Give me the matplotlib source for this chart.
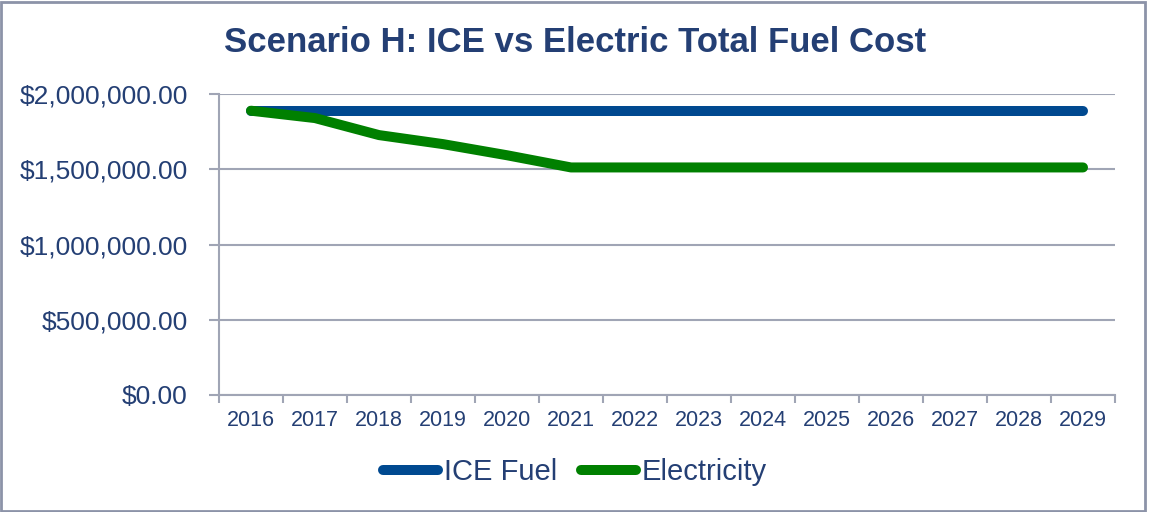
import matplotlib.pyplot as plt
from matplotlib.patches import Rectangle
from matplotlib.ticker import FuncFormatter

years = [str(y) for y in range(2016, 2030)]
ice_fuel = [1889000] * 14
electricity = [1889000, 1840000, 1727000, 1667000, 1593000, 1512000,
               1512000, 1512000, 1512000, 1512000, 1512000, 1512000,
               1512000, 1512000]

navy = '#243f74'
grid_c = '#a0a5b5'

plt.rcParams['font.family'] = ['Liberation Sans', 'DejaVu Sans']

fig = plt.figure(figsize=(11.52, 5.12), dpi=100)
ax = fig.add_axes([219 / 1152, 1 - 395 / 512, 896 / 1152, 301 / 512])

x = list(range(len(years)))
ax.plot(x, ice_fuel, color='#004990', lw=7.2, solid_capstyle='round',
        label='ICE Fuel', zorder=3)
ax.plot(x, electricity, color='#008000', lw=7.2, solid_capstyle='round',
        solid_joinstyle='round', label='Electricity', zorder=4)

ax.set_xlim(-0.5, len(years) - 0.5)
ax.set_ylim(0, 2000000)
ax.set_yticks([0, 500000, 1000000, 1500000, 2000000])
ax.yaxis.set_major_formatter(FuncFormatter(lambda v, p: '${:,.2f}'.format(v)))
ax.set_xticks([i - 0.5 for i in range(len(years) + 1)])
ax.set_xticklabels([])
ax.set_xticks(x, minor=True)
ax.set_xticklabels(years, minor=True)
ax.tick_params(axis='x', which='major', length=6, width=1.5, color=grid_c)
ax.tick_params(axis='x', which='minor', length=0, pad=11, labelsize=15.5,
               labelcolor=navy)
ax.tick_params(axis='y', length=7, width=1.5, color=grid_c, labelsize=19,
               labelcolor=navy, pad=15.5)

ax.grid(axis='y', color=grid_c, lw=1.5)
ax.set_axisbelow(True)
for s in ['top', 'right']:
    ax.spines[s].set_visible(False)
for s in ['left', 'bottom']:
    ax.spines[s].set_color(grid_c)
    ax.spines[s].set_linewidth(1.5)

fig.text(0.499, 1 - 42 / 512, 'Scenario H: ICE vs Electric Total Fuel Cost',
         ha='center', va='center', fontsize=25, fontweight='bold', color=navy)

leg = fig.legend(loc='center', bbox_to_anchor=(575 / 1152, 1 - 472 / 512),
                 ncol=2, frameon=False, fontsize=21, handlelength=1.9,
                 handletextpad=0.2, columnspacing=0.8)
for t in leg.get_texts():
    t.set_color(navy)

fig.patches.append(Rectangle((1 / 1152, 1 / 512), 1144 / 1152, 509 / 512,
                             transform=fig.transFigure, fill=False,
                             edgecolor='#8c93a8', lw=2))

fig.savefig('out.png', dpi=100)
